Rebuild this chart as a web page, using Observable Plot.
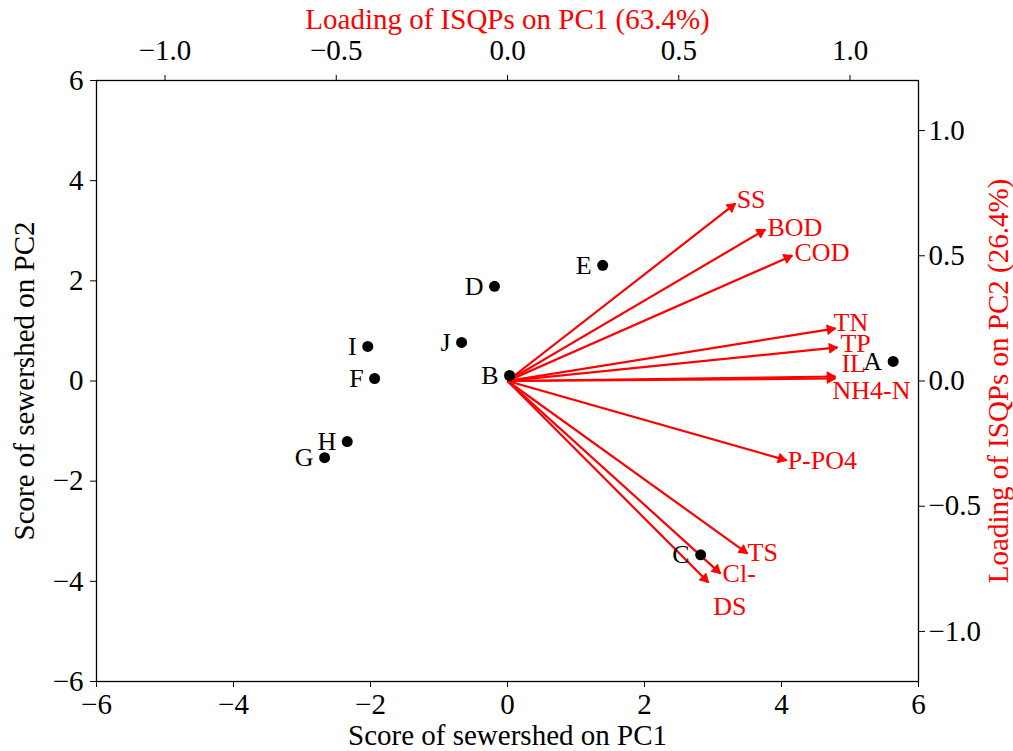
<!DOCTYPE html>
<html>
<head>
<meta charset="utf-8">
<script src="https://cdn.jsdelivr.net/npm/d3@7"></script>
<script src="https://cdn.jsdelivr.net/npm/@observablehq/plot@0.6"></script>
<style>
  html, body { margin: 0; padding: 0; background: #fff; }
  #chart { width: 1013px; height: 751px; }
</style>
</head>
<body>
<div id="chart"></div>
<script>
// Sample scores (sewersheds)
const sites = ["A", "B", "C", "D", "E", "F", "G", "H", "I", "J"];
const scorePC1 = [5.63, 0.03, 2.82, -0.19, 1.39, -1.94, -2.67, -2.34, -2.04, -0.67];
const scorePC2 = [0.39, 0.11, -3.47, 1.89, 2.31, 0.05, -1.53, -1.21, 0.69, 0.77];

// Variable loadings (ISQPs)
const variables = ["SS", "BOD", "COD", "TN", "TP", "IL", "NH4-N", "P-PO4", "TS", "Cl-", "DS"];
const loadPC1 = [0.666, 0.753, 0.832, 0.958, 0.964, 0.958, 0.958, 0.815, 0.701, 0.622, 0.587];
const loadPC2 = [0.709, 0.605, 0.501, 0.210, 0.134, 0.018, 0.010, -0.317, -0.689, -0.769, -0.805];
// label anchor positions (loading units), as placed in the figure
const labelPC1 = [0.669, 0.759, 0.838, 0.952, 0.972, 0.975, 0.949, 0.818, 0.701, 0.628, 0.601];
const labelPC2 = [0.725, 0.613, 0.513, 0.234, 0.150, 0.070, -0.038, -0.317, -0.684, -0.769, -0.900];

// Axis ticks
const scoreTicks = [-6, -4, -2, 0, 2, 4, 6];
const loadingTicks = [-1.0, -0.5, 0.0, 0.5, 1.0];
const scoreDomain = [-6, 6];
const loadingDomain = [-1.2, 1.2];
const k = scoreDomain[1] / loadingDomain[1]; // loading -> score space

// layout
const W = 1013, H = 751, ML = 96, MR = 95, MT = 80, MB = 70;
const pxX = (W - ML - MR) / (scoreDomain[1] - scoreDomain[0]);
const pxY = (H - MT - MB) / (scoreDomain[1] - scoreDomain[0]);
const headR = 3.6;
const headBack = 2 * Math.sqrt(Math.PI * headR * headR / (Math.sqrt(3) * 3)); // centroid-to-tip distance

const points = sites.map((s, i) => ({name: s, x: scorePC1[i], y: scorePC2[i]}));
const loads = variables.map((v, i) => {
  const x = loadPC1[i] * k, y = loadPC2[i] * k;
  const sx = x * pxX, sy = -y * pxY;           // screen vector
  const len = Math.hypot(sx, sy);
  const ux = sx / len, uy = sy / len;
  return {
    name: v, x, y,
    lx: labelPC1[i] * k, ly: labelPC2[i] * k,
    hx: x - ux * headBack / pxX,
    hy: y + uy * headBack / pxY,
    angle: Math.atan2(sx, -sy) * 180 / Math.PI
  };
});

const fInt = d3.format("d");
const f1 = d3.format(".1f");
const RED = "#ff0000";
const FS = 29;

const chart = Plot.plot({
  width: W,
  height: H,
  marginLeft: ML,
  marginRight: MR,
  marginTop: MT,
  marginBottom: MB,
  style: {fontFamily: "'Liberation Serif', 'DejaVu Serif', serif", fontSize: FS + "px", background: "#fff", color: "#000"},
  x: {domain: scoreDomain},
  y: {domain: scoreDomain},
  marks: [
    Plot.frame({stroke: "#000", strokeWidth: 1.3}),
    Plot.axisX(scoreTicks, {anchor: "bottom", tickSize: 6, tickPadding: 6, tickFormat: fInt, label: null, fontSize: FS}),
    Plot.axisY(scoreTicks, {anchor: "left", tickSize: 6, tickPadding: 7, tickFormat: fInt, label: null, fontSize: FS}),
    Plot.axisX(loadingTicks.map(v => v * k), {anchor: "top", tickSize: 6, tickPadding: 15, tickFormat: d => f1(d / k), label: null, fontSize: FS}),
    Plot.axisY(loadingTicks.map(v => v * k), {anchor: "right", tickSize: 6, tickPadding: 4, tickFormat: d => f1(d / k), label: null, fontSize: FS}),
    // axis titles
    Plot.text(["Score of sewershed on PC1"], {frameAnchor: "bottom", dy: 54, textAnchor: "middle", lineAnchor: "middle", fontSize: FS, fill: "#000"}),
    Plot.text(["Score of sewershed on PC2"], {frameAnchor: "left", dx: -72, textAnchor: "middle", lineAnchor: "middle", rotate: -90, fontSize: FS, fill: "#000"}),
    Plot.text(["Loading of ISQPs on PC1 (63.4%)"], {frameAnchor: "top", dy: -61, textAnchor: "middle", lineAnchor: "middle", fontSize: FS, fill: RED}),
    Plot.text(["Loading of ISQPs on PC2 (26.4%)"], {frameAnchor: "right", dx: 80, textAnchor: "middle", lineAnchor: "middle", rotate: -90, fontSize: FS, fill: RED}),
    // loading arrows
    Plot.link(loads, {x1: 0, y1: 0, x2: "x", y2: "y", stroke: RED, strokeWidth: 2.2}),
    Plot.dot(loads, {x: "hx", y: "hy", symbol: "triangle", r: headR, rotate: "angle", fill: RED, stroke: RED, strokeWidth: 0.8}),
    Plot.text(loads, {x: "lx", y: "ly", text: "name", fill: RED, textAnchor: "start", fontSize: 26}),
    // scores
    Plot.dot(points, {x: "x", y: "y", r: 5.5, fill: "#000", stroke: "none"}),
    Plot.text(points, {x: "x", y: "y", text: "name", textAnchor: "end", dx: -11, fill: "#000", fontSize: 26})
  ]
});
document.getElementById("chart").appendChild(chart);
</script>
</body>
</html>
